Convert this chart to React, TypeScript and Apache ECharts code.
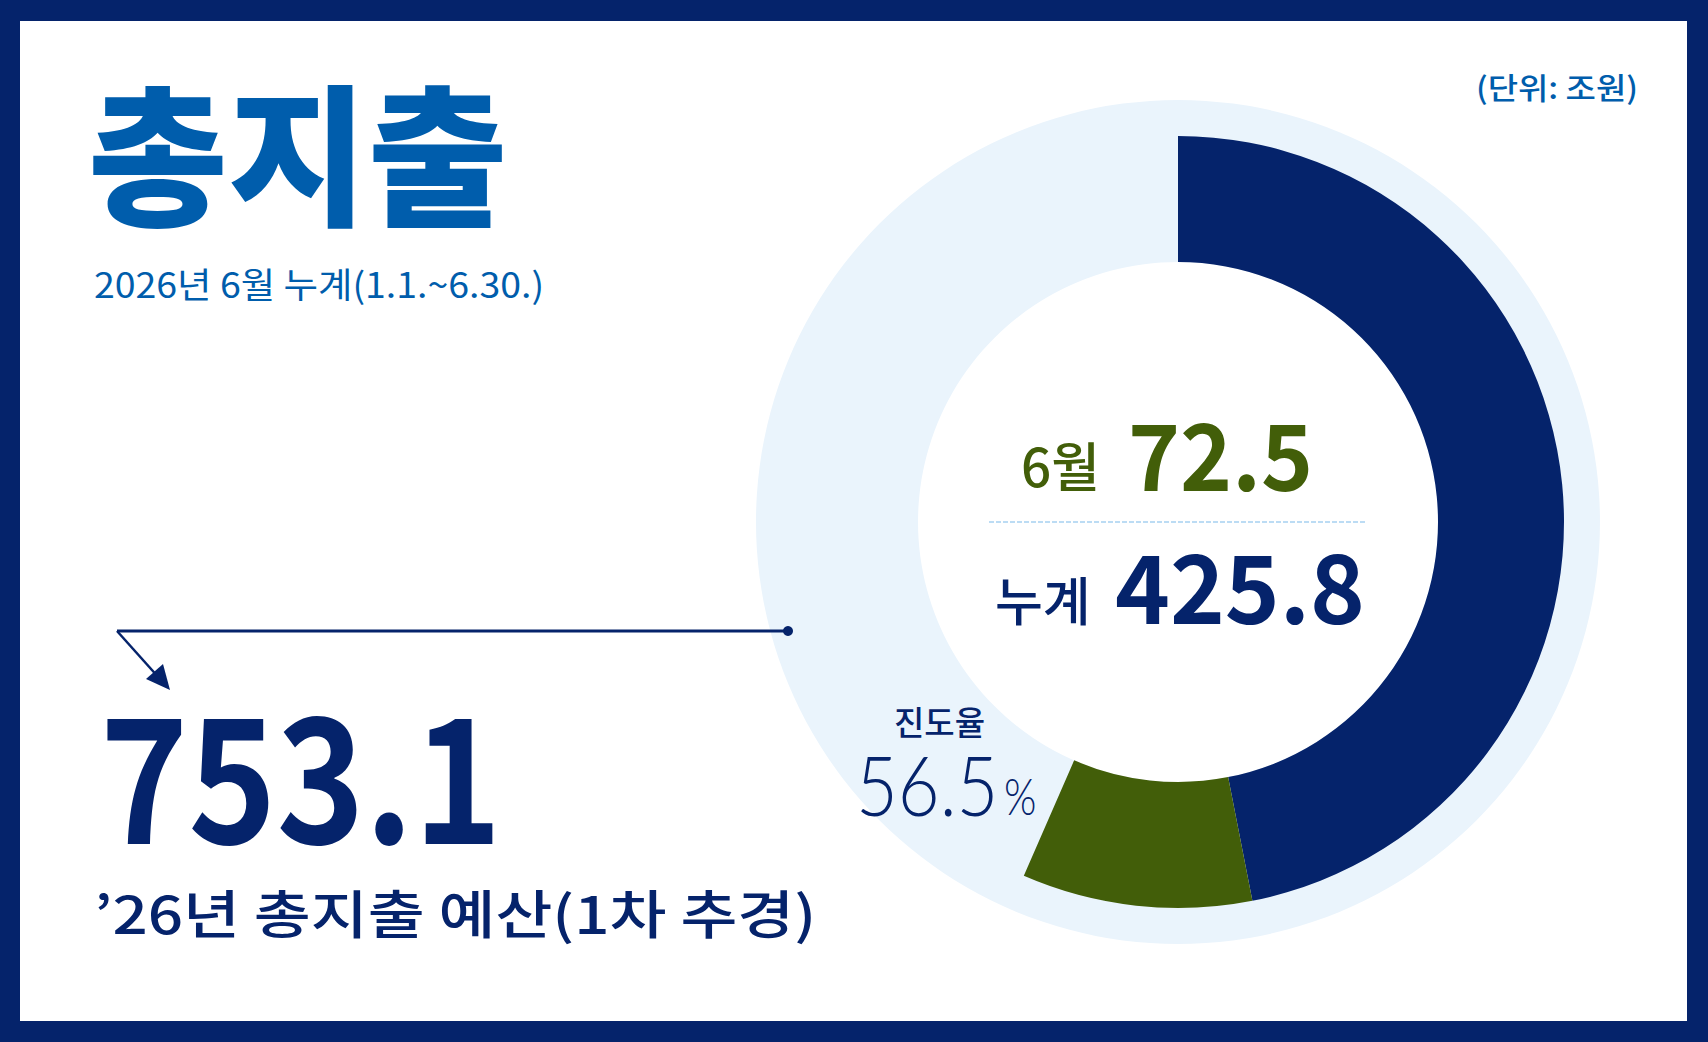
import React, { useEffect, useRef } from "react";
import * as echarts from "echarts";

// ---- data ----
const sliceNames = ["1~5월 누계", "6월", "잔여 예산"];
const sliceValues = [353.3, 72.5, 327.3];
const totalBudget = "753.1";
const juneValue = "72.5";
const cumulativeValue = "425.8";
const progressRate = "56.5";
const titleText = "총지출";
const subtitleText = "2026년 6월 누계(1.1.~6.30.)";
const unitText = "(단위: 조원)";
const budgetLabel = "’26년 총지출 예산(1차 추경)";

const NAVY = "#05236B";
const GREEN = "#425E09";
const BLUE = "#005DAC";
const LIGHT = "#EAF4FC";
const KR = '"Noto Sans CJK KR", "Noto Sans", sans-serif';

function txt(
  text: string,
  x: number,
  y: number,
  size: number,
  color: string,
  weight: any = "normal",
  opts: any = {}
) {
  const align = opts.align || "left";
  return {
    type: "text",
    x,
    y,
    scaleX: opts.scaleX || 1,
    z: 100,
    silent: true,
    style: {
      text,
      fill: color,
      fontSize: size,
      fontWeight: weight,
      fontFamily: opts.family || KR,
      textAlign: align,
      align,
      textVerticalAlign: "middle",
      verticalAlign: "middle",
    },
  };
}

export default function App() {
  const ref = useRef<HTMLDivElement>(null);
  useEffect(() => {
    document.body.style.margin = "0";
    document.body.style.overflow = "hidden";
    const chart = echarts.init(ref.current!, null, { renderer: "svg" });
    const center = [1178, 522];
    const colors = [NAVY, GREEN, "transparent"];
    chart.setOption({
      animation: false,
      backgroundColor: NAVY,
      graphic: [
        {
          type: "rect",
          z: -10,
          silent: true,
          shape: { x: 20, y: 21, width: 1667, height: 1000 },
          style: { fill: "#ffffff" },
        },
        txt(titleText, 88, 148, 152, BLUE, 900, { scaleX: 1.0 }),
        txt(subtitleText, 94, 283, 35, BLUE, "normal", { scaleX: 1.07 }),
        txt(unitText, 1638, 86, 30, BLUE, 500, { align: "right", scaleX: 1.1 }),
        txt("6월", 1021, 464, 53, GREEN, 500),
        txt(juneValue, 1128, 451, 92, GREEN, "bold", { scaleX: 0.96 }),
        {
          type: "line",
          z: 100,
          silent: true,
          shape: { x1: 989, y1: 522, x2: 1367, y2: 522 },
          style: { stroke: "#BCDCF4", lineWidth: 2, lineDash: [5, 2] },
        },
        txt("누계", 995, 598, 52, NAVY, 500),
        txt(cumulativeValue, 1115, 583, 95, NAVY, "bold", { scaleX: 0.98 }),
        txt("진도율", 894, 721, 33, NAVY, 500),
        txt(progressRate, 856, 784, 82, NAVY, 300, { family: "Lato", scaleX: 0.88 }),
        txt("%", 1004, 795, 52, NAVY, 300, { family: "Lato", scaleX: 0.8 }),
        txt(totalBudget, 100, 768, 174, NAVY, "bold", { scaleX: 0.86 }),
        txt(budgetLabel, 94, 911, 52, NAVY, 500, { scaleX: 1.19 }),
        {
          type: "line",
          z: 100,
          silent: true,
          shape: { x1: 117, y1: 631, x2: 788, y2: 631 },
          style: { stroke: NAVY, lineWidth: 3 },
        },
        {
          type: "circle",
          z: 100,
          silent: true,
          shape: { cx: 788, cy: 631, r: 5 },
          style: { fill: NAVY },
        },
        {
          type: "line",
          z: 100,
          silent: true,
          shape: { x1: 117, y1: 631, x2: 160, y2: 679 },
          style: { stroke: NAVY, lineWidth: 2.5 },
        },
        {
          type: "polygon",
          z: 100,
          silent: true,
          shape: {
            points: [
              [170, 690],
              [146, 679],
              [163, 664],
            ],
          },
          style: { fill: NAVY },
        },
      ],
      series: [
        {
          type: "pie",
          z: 1,
          silent: true,
          center,
          radius: [260, 422],
          label: { show: false },
          labelLine: { show: false },
          emphasis: { disabled: true },
          data: [{ value: 1, name: "bg", itemStyle: { color: LIGHT } }],
        },
        {
          type: "pie",
          z: 2,
          silent: true,
          center,
          radius: [260, 386],
          startAngle: 90,
          clockwise: true,
          label: { show: false },
          labelLine: { show: false },
          emphasis: { disabled: true },
          itemStyle: { borderWidth: 0 },
          data: sliceNames.map((n, i) => ({
            name: n,
            value: sliceValues[i],
            itemStyle: { color: colors[i] },
          })),
        },
      ],
    });
    return () => chart.dispose();
  }, []);
  return <div ref={ref} style={{ width: 1708, height: 1042 }} />;
}
